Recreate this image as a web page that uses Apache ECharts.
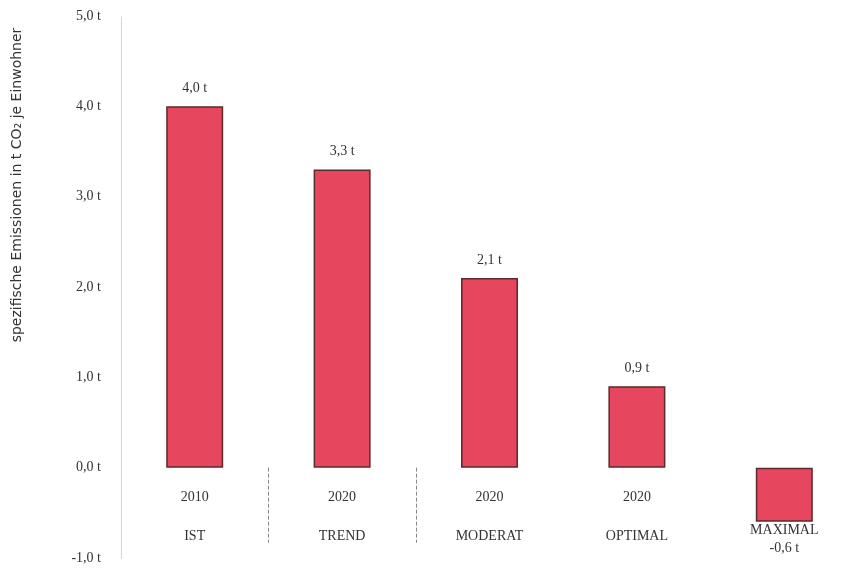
<!DOCTYPE html>
<html><head><meta charset="utf-8">
<script src="https://cdn.jsdelivr.net/npm/echarts@6/dist/echarts.min.js"></script>
<style>html,body{margin:0;padding:0;background:#fff}#c{width:849px;height:574px}</style>
</head><body><div id="c"></div>
<script>
const years = ['2010','2020','2020','2020','2020'];
const scenarios = ['IST','TREND','MODERAT','OPTIMAL','MAXIMAL'];
const values = [4.0, 3.3, 2.1, 0.9, -0.6];
const yTicks = [-1, 0, 1, 2, 3, 4, 5];
const yAxisTitle = 'spezifische Emissionen in t CO\u2082 je Einwohner';

const FONT = '"Liberation Serif", serif';
const fmt = v => v.toFixed(1).replace('.', ',') + ' t';
const categories = years.map((y, i) => {
  const text = y + '\n' + scenarios[i];
  return values[i] < 0 ? { value: text, textStyle: { lineHeight: 35 } } : text;
});

const chart = echarts.init(document.getElementById('c'));
chart.setOption({
  animation: false,
  backgroundColor: '#fff',
  grid: { left: 121, top: 16, width: 737, bottom: 16, containLabel: false, outerBoundsMode: 'none' },
  xAxis: {
    type: 'category',
    data: categories,
    offset: 0,
    axisLine: { show: false, onZero: false },
    axisTick: {
      show: true, length: 75,
      interval: (i) => i === 1 || i === 2,
      lineStyle: { color: '#888', type: 'dashed', width: 1 }
    },
    axisLabel: { fontFamily: FONT, fontSize: 14, color: '#333', margin: 10, lineHeight: 39 }
  },
  yAxis: {
    type: 'value', min: yTicks[0], max: yTicks[yTicks.length - 1], interval: 1,
    axisLine: { show: true, lineStyle: { color: '#ccc', type: 'dotted' } },
    axisTick: { show: false },
    splitLine: { show: false },
    axisLabel: { formatter: fmt, fontFamily: FONT, fontSize: 14, color: '#333', margin: 20 }
  },
  graphic: [{
    type: 'text', x: 17, y: 185, rotation: Math.PI / 2,
    style: { text: yAxisTitle, fontFamily: '"DejaVu Sans", sans-serif', fontSize: 14, fill: '#333', align: 'center', verticalAlign: 'middle' }
  }],
  series: [{
    type: 'bar',
    barWidth: 57,
    data: values.map(v => v < 0 ? { value: v, label: { position: 'bottom', distance: 19 } } : v),
    itemStyle: { color: '#e6475f', borderColor: '#5b2a2a', borderWidth: 1.5 },
    label: { show: true, position: 'top', distance: 11, formatter: p => fmt(p.value), fontFamily: FONT, fontSize: 14, color: '#333' }
  }]
});
// place the category axis at the zero line using the library's own value scale
const zeroY = chart.convertToPixel({ yAxisIndex: 0 }, 0);
const bottomY = chart.convertToPixel({ yAxisIndex: 0 }, yTicks[0]);
chart.setOption({ xAxis: { offset: zeroY - bottomY } });
</script></body></html>
